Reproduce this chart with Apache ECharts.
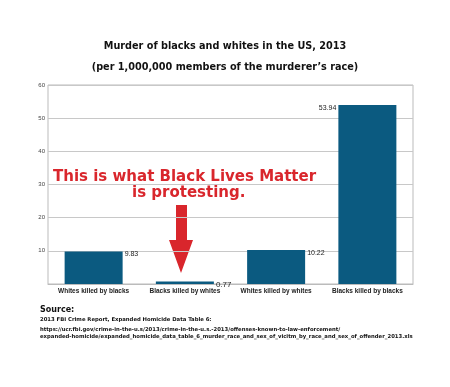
<!DOCTYPE html>
<html>
<head>
<meta charset="utf-8">
<script src="https://cdn.jsdelivr.net/npm/echarts@6/dist/echarts.min.js"></script>
<style>
  html, body { margin: 0; padding: 0; background: #fff; }
  #chart { width: 450px; height: 387px; }
</style>
</head>
<body>
<div id="chart"></div>
<script>
// data
var categories = ['Whites killed by blacks', 'Blacks killed by whites', 'Whites killed by whites', 'Blacks killed by blacks'];
var rates = [9.83, 0.77, 10.22, 53.94];
var yTicks = [0, 10, 20, 30, 40, 50, 60];

var barColor = '#0b5a80';
var red = '#d9262c';
var barW = 58;

var chart = echarts.init(document.getElementById('chart'));

var seriesData = rates.map(function (v, i) {
  var last = i === rates.length - 1;
  return {
    value: v,
    label: {
      position: last ? [-2, -1] : [barW + 2, -1],
      align: last ? 'right' : 'left',
      verticalAlign: 'top',
      fontSize: i === 1 ? 8 : 7
    }
  };
});

var option = {
  backgroundColor: '#fff',
  animation: false,
  title: [
    {
      text: 'Murder of blacks and whites in the US, 2013',
      left: 'center', top: 36,
      textStyle: { fontFamily: 'DejaVu Sans', fontWeight: 'bold', fontSize: 9.7, color: '#111' }
    },
    {
      text: '(per 1,000,000 members of the murderer\u2019s race)',
      left: 'center', top: 57,
      textStyle: { fontFamily: 'DejaVu Sans', fontWeight: 'bold', fontSize: 9.7, color: '#111' }
    }
  ],
  grid: {
    left: 48, right: 37, top: 85, bottom: 103,
    show: true, borderColor: '#bbb', borderWidth: 1
  },
  xAxis: {
    type: 'category',
    data: categories,
    axisLine: { lineStyle: { color: '#bbb' } },
    axisTick: { show: false },
    axisLabel: {
      interval: 0, margin: 4,
      fontFamily: 'Liberation Sans', fontWeight: 'bold', fontSize: 6.5, color: '#222'
    }
  },
  yAxis: {
    type: 'value',
    min: yTicks[0], max: yTicks[yTicks.length - 1], interval: 10,
    axisLine: { show: false },
    axisTick: { show: false },
    axisLabel: {
      margin: 3, fontSize: 6, color: '#444', fontFamily: 'Liberation Sans',
      formatter: function (v) { return v === 0 ? '' : String(v); }
    },
    splitLine: { lineStyle: { color: '#c8c8c8', width: 1 } }
  },
  series: [{
    type: 'bar',
    data: seriesData,
    barWidth: barW,
    itemStyle: { color: barColor },
    label: {
      show: true,
      color: '#222',
      fontFamily: 'Liberation Sans',
      formatter: function (p) { return p.value.toFixed(2); }
    }
  }],
  graphic: [
    {
      type: 'text', left: 53, top: 170,
      style: { text: 'This is what Black Lives Matter', fill: red, font: 'bold 15px "DejaVu Sans"' }
    },
    {
      type: 'text', left: 132, top: 186,
      style: { text: 'is protesting.', fill: red, font: 'bold 15px "DejaVu Sans"' }
    },
    {
      type: 'polygon',
      shape: { points: [[176, 205], [187, 205], [187, 240], [193, 240], [181, 273], [169, 240], [176, 240]] },
      style: { fill: red }
    },
    {
      type: 'text', left: 40, top: 306,
      style: { text: 'Source:', fill: '#111', font: 'bold 8px "DejaVu Sans"' }
    },
    {
      type: 'text', left: 40, top: 317,
      style: { text: '2013 FBI Crime Report, Expanded Homicide Data Table 6:', fill: '#111', font: 'bold 5.3px "DejaVu Sans"' }
    },
    {
      type: 'text', left: 40, top: 326,
      style: {
        text: 'https://ucr.fbi.gov/crime-in-the-u.s/2013/crime-in-the-u.s.-2013/offenses-known-to-law-enforcement/\nexpanded-homicide/expanded_homicide_data_table_6_murder_race_and_sex_of_vicitm_by_race_and_sex_of_offender_2013.xls',
        fill: '#111', font: 'bold 5.3px "DejaVu Sans"', lineHeight: 7
      }
    }
  ]
};

chart.setOption(option);
</script>
</body>
</html>
